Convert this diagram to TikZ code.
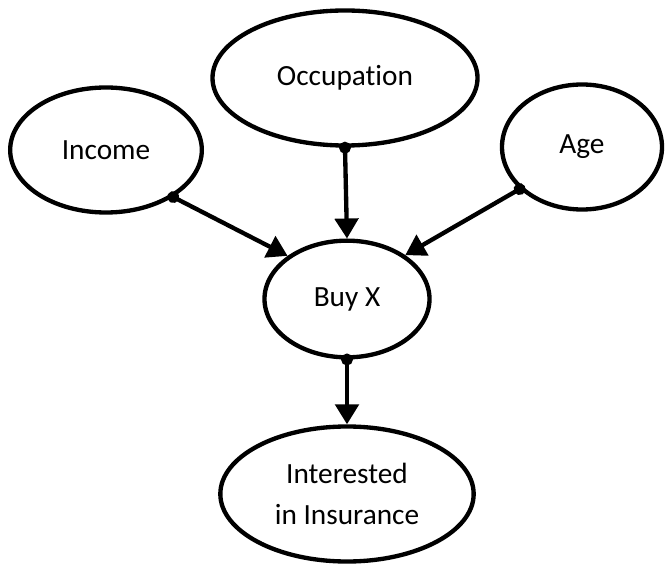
\documentclass[tikz,border=0pt]{standalone}
\usepackage{fontspec}
\setmainfont{Carlito}[Ligatures=NoCommon]
\usetikzlibrary{arrows.meta,shapes.geometric}

\begin{document}
\begin{tikzpicture}[x=0.03cm,y=-0.03cm,
    var/.style={ellipse,draw,line width=3.7pt,inner sep=0pt,align=center,
      font=\fontsize{25}{35}\selectfont},
    link/.style={line width=3.7pt,{Circle[length=10pt]}-{Triangle[length=0.6cm,width=0.7cm]},
      shorten <=-5pt}]
  \useasboundingbox (0,0) rectangle (671,570);
  % parents
  \node[var,minimum width=7.95cm,minimum height=4.05cm] (occupation) at (345,78) {Occupation};
  \node[var,minimum width=5.75cm,minimum height=3.75cm] (income) at (106,150) {Income};
  \node[var,minimum width=4.8cm,minimum height=3.75cm] (age) at (582,147) {Age};
  % child nodes
  \node[var,minimum width=4.95cm,minimum height=3.5cm] (buyx) at (347,299) {Buy X};
  \node[var,minimum width=7.6cm,minimum height=4.05cm] (insurance) at (347,494)
    {Interested\\in Insurance};
  % edges
  \draw[link] (income.-35) -- (buyx.144);
  \draw[link] (occupation.south) -- (buyx.north);
  \draw[link] (age.214) -- (buyx.37);
  \draw[link] (buyx.south) -- (insurance.north);
\end{tikzpicture}
\end{document}
